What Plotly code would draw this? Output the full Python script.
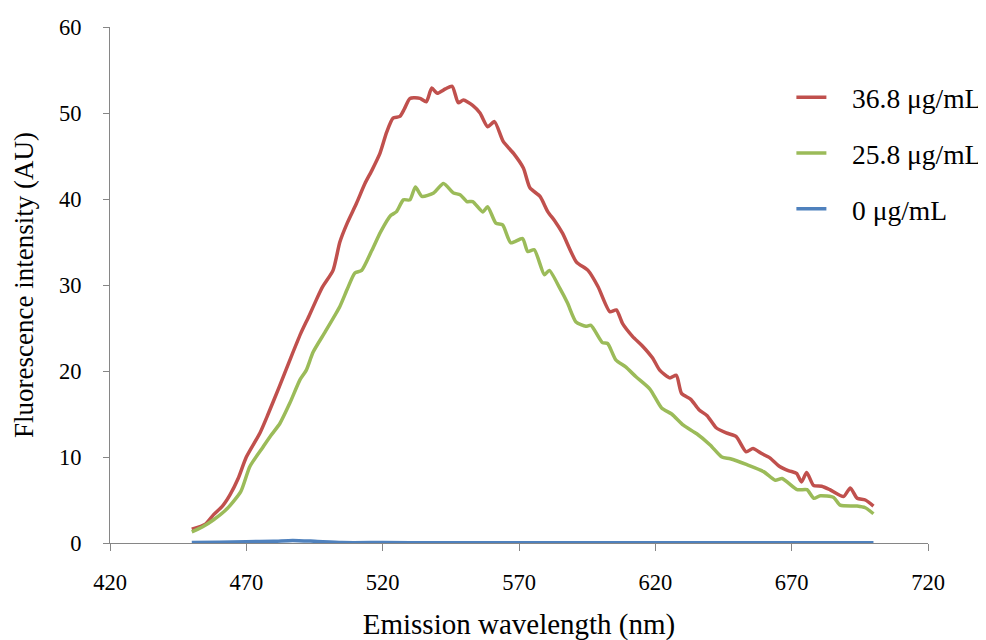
import plotly.graph_objects as go

# 36.8 ug/mL
wl_red = [450, 455, 458, 461, 464, 467, 470, 475, 478, 482, 486, 490, 493, 495.7, 498, 501.8, 504.3, 507, 510.4, 513.5, 516, 519, 521.5, 523.8, 526.3, 528, 530, 533.7, 536, 538, 540, 543, 545.5, 547.7, 549.6, 553, 555.7, 558.5, 561, 564.2, 568, 571.6, 574, 577.7, 580.6, 583, 586, 591, 595.3, 599, 603.3, 605.7, 608, 611.7, 615, 619, 621.6, 625.3, 627.7, 629.6, 633, 636, 639, 642.3, 646, 649.6, 653.3, 655.8, 659, 662, 665.6, 669, 671.8, 673.6, 675.5, 678, 681, 684, 689, 691.5, 694, 697, 700]
int_red = [1.6, 2.2, 3.3, 4.2, 5.6, 7.5, 10.0, 12.8, 15.0, 18.1, 21.3, 24.4, 26.4, 28.3, 29.8, 31.7, 35.0, 37.2, 39.5, 41.8, 43.3, 45.3, 47.8, 49.4, 49.6, 50.5, 51.7, 51.7, 51.3, 52.9, 52.3, 52.8, 53.1, 51.2, 51.5, 50.9, 50.0, 48.4, 49.0, 46.7, 45.3, 43.6, 41.3, 40.3, 38.5, 37.5, 36.0, 32.7, 31.7, 29.8, 26.9, 27.1, 25.5, 24.0, 23.0, 21.5, 20.1, 19.2, 19.5, 17.4, 16.7, 15.5, 14.8, 13.4, 12.8, 12.4, 10.6, 11.0, 10.4, 9.9, 8.9, 8.4, 8.1, 7.1, 8.2, 6.7, 6.6, 6.2, 5.4, 6.4, 5.2, 5.0, 4.3]

# 25.8 ug/mL
wl_green = [450, 454, 458, 463, 468, 471.3, 476.2, 479, 482.3, 486, 489.7, 492, 494.5, 499, 504.3, 507, 509.8, 512.3, 516, 519.3, 523, 525, 527.6, 530, 532, 534.4, 538.7, 542.3, 546, 548.4, 550.9, 553, 556.7, 558.5, 561.5, 564, 567, 571.3, 573.2, 575.6, 579.3, 581.1, 585, 587.8, 590.9, 594.5, 596.4, 600.6, 602.5, 605.5, 609, 613, 618, 622.3, 626, 630.3, 635.2, 640.1, 644.4, 647.5, 653.6, 659.7, 664, 666.5, 672, 675.6, 678.1, 680.5, 685.4, 687.8, 694, 697, 700]
int_green = [1.3, 1.9, 2.7, 4.0, 6.0, 8.9, 11.2, 12.5, 13.9, 16.3, 19.0, 20.1, 22.2, 24.6, 27.5, 29.5, 31.4, 31.7, 34.0, 36.2, 38.1, 38.5, 39.9, 39.9, 41.4, 40.3, 40.7, 41.8, 40.7, 40.5, 39.7, 39.7, 38.5, 39.1, 37.2, 37.0, 34.9, 35.4, 33.9, 34.1, 31.2, 31.7, 29.6, 27.9, 25.7, 25.2, 25.3, 23.3, 23.2, 21.3, 20.5, 19.3, 17.9, 15.7, 15.0, 13.7, 12.7, 11.4, 10.0, 9.8, 9.1, 8.3, 7.3, 7.5, 6.2, 6.2, 5.2, 5.5, 5.3, 4.4, 4.3, 4.1, 3.4]

# 0 ug/mL
wl_blue = [450, 460, 470, 480, 487, 495, 505, 520, 540, 560, 580, 600, 620, 640, 660, 680, 700]
int_blue = [0.05, 0.1, 0.15, 0.2, 0.3, 0.2, 0.05, 0.05, 0.03, 0.03, 0.02, 0.02, 0.02, 0.02, 0.02, 0.02, 0.02]

x_ticks = [420, 470, 520, 570, 620, 670, 720]
y_ticks = [0, 10, 20, 30, 40, 50, 60]

font = "Liberation Serif, Times New Roman, serif"
pad = "\u00a0\u00a0\u00a0"

fig = go.Figure()
series = [
    ("36.8 μg/mL", wl_red, int_red, "#C0504D"),
    ("25.8 μg/mL", wl_green, int_green, "#9BBB59"),
    ("0 μg/mL", wl_blue, int_blue, "#4F81BD"),
]
for name, xs, ys, col in series:
    fig.add_trace(go.Scatter(
        x=xs, y=ys, mode="lines", name=pad + name, legendgroup=name,
        line=dict(color=col, width=3.5, shape="spline", smoothing=0.6),
    ))

fig.update_layout(
    width=986, height=640,
    margin=dict(l=102, r=66, t=19, b=105, autoexpand=False),
    paper_bgcolor="white", plot_bgcolor="white",
    font=dict(family=font, size=20, color="black"),
    showlegend=True,
    legend=dict(x=0.833, y=0.911, xanchor="left", yanchor="top",
                font=dict(family=font, size=27.5, color="black"),
                tracegroupgap=17, bgcolor="rgba(0,0,0,0)"),
    xaxis=dict(range=[420, 720], tickvals=x_ticks, showgrid=False, zeroline=False,
               showline=True, linecolor="#868686", linewidth=1,
               ticks="outside", ticklen=7, tickcolor="#868686",
               ticklabelstandoff=12, automargin=False,
               tickfont=dict(family=font, size=22.5),
               title=dict(text="Emission wavelength (nm)", font=dict(family=font, size=29), standoff=19)),
    yaxis=dict(range=[0, 60], tickvals=y_ticks, showgrid=False, zeroline=False,
               showline=True, linecolor="#868686", linewidth=1,
               ticks="outside", ticklen=6, tickcolor="#868686",
               ticklabelstandoff=17, automargin=False,
               tickfont=dict(family=font, size=22.5),
               title=dict(text="Fluorescence intensity (AU)", font=dict(family=font, size=27), standoff=17)),
)

fig.write_html("out.html")
